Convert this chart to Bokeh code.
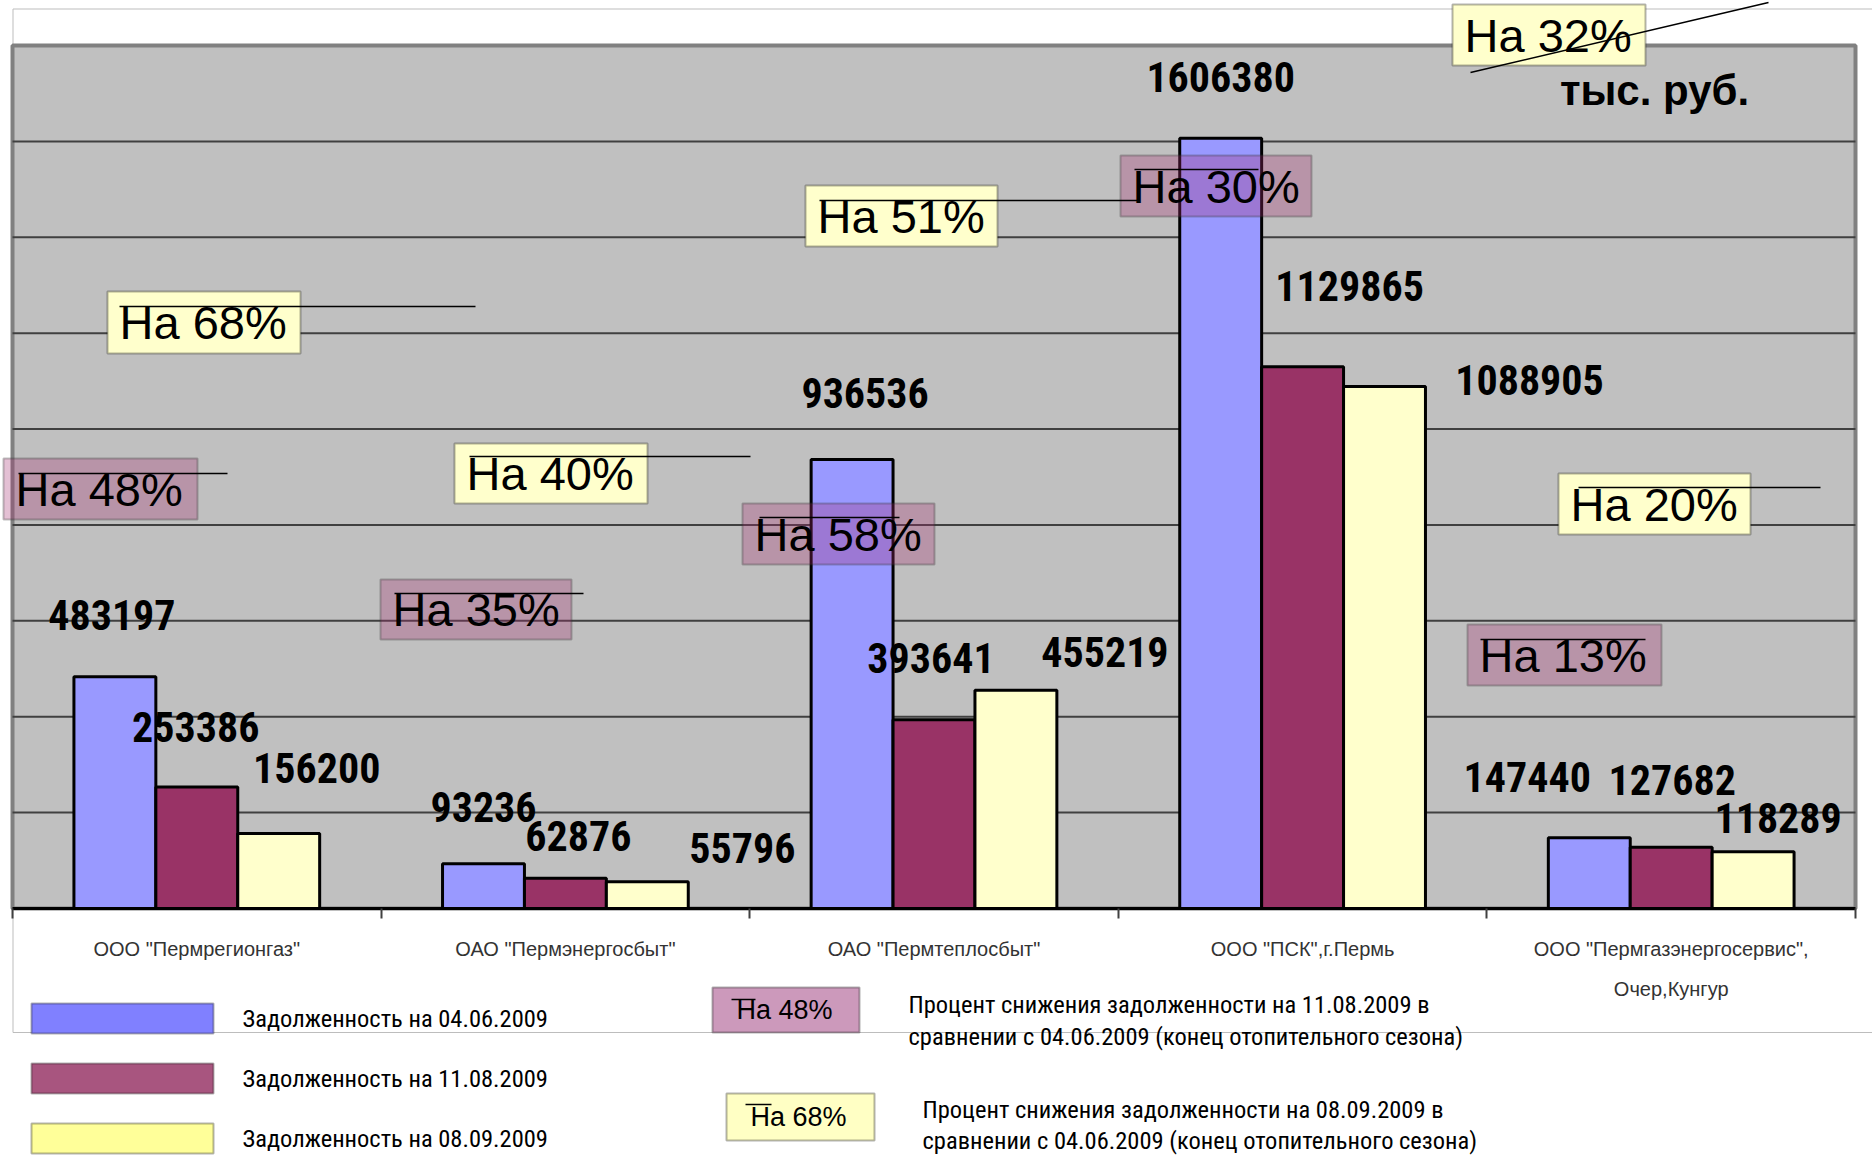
from bokeh.plotting import figure
from bokeh.models import Range1d, FixedTicker, ColumnDataSource, BoxAnnotation, Label, Arrow
from bokeh.core.properties import value
from bokeh.embed import file_html
from bokeh.resources import INLINE
import numpy as np

# ---------------- data ----------------
categories = ['ООО "Пермрегионгаз"', 'ОАО "Пермэнергосбыт"', 'ОАО "Пермтеплосбыт"',
              'ООО "ПСК",г.Пермь', 'ООО "Пермгазэнергосервис",']
category_second_line = 'Очер,Кунгур'
series_names = ['Задолженность на 04.06.2009', 'Задолженность на 11.08.2009',
                'Задолженность на 08.09.2009']
debt_0406 = [483197, 93236, 936536, 1606380, 147440]
debt_1108 = [253386, 62876, 393641, 1129865, 127682]
debt_0809 = [156200, 55796, 455219, 1088905, 118289]
pct_1108 = [48, 35, 58, 30, 13]   # decrease 11.08 vs 04.06
pct_0809 = [68, 40, 51, 32, 20]   # decrease 08.09 vs 04.06
y_max = 1800000
y_grid_ticks = [200000, 400000, 600000, 800000, 1000000, 1200000, 1400000, 1600000]
unit_text = 'тыс. руб.'
legend_pct_text = ['На 48%', 'На 68%']
legend_pct_desc = [['Процент снижения задолженности на 11.08.2009  в',
                    'сравнении с 04.06.2009 (конец отопительного сезона)'],
                   ['Процент снижения задолженности на 08.09.2009  в',
                    'сравнении с 04.06.2009 (конец отопительного сезона)']]

# ---------------- styling / layout ----------------
W, H = 1872, 1157
GL, GR, GT, GB = 12, 1855, 45, 908      # plot-area edges in page px
NCAT = len(categories)
BAR_W = 1 / 4.5
bar_colors = ['#9999FF', '#993366', '#FFFFCC']
swatch_colors = ['#8080FF', '#A8557F', '#FFFF99']
COND = 'Roboto Condensed, Open Sans Condensed, DejaVu Sans Condensed, Liberation Sans Narrow, Liberation Sans'
SANS = 'Liberation Sans'

XU = NCAT / (GR - GL)       # data units per px
YU = y_max / (GB - GT)

def X(px):
    return (px - GL) * XU

def Y(py):
    return (GB - py) * YU

p = figure(width=W, height=H, x_range=Range1d(X(0), X(W)), y_range=Range1d(Y(H), Y(0)),
           y_axis_location=None, toolbar_location=None, output_backend='svg',
           min_border_left=0, min_border_right=0, min_border_top=0, min_border_bottom=0,
           background_fill_color='white', border_fill_color='white', outline_line_color=None)
p.grid.visible = False

# outer chart border
p.quad(left=X(12.5), right=X(1890), top=Y(8.5), bottom=Y(1032), fill_color=None,
       line_color='#BDBDBD', line_width=1)
# plot area
p.quad(left=0, right=NCAT, bottom=0, top=y_max, fill_color='#C0C0C0', line_color='#808080',
       line_width=4)
# horizontal grid lines
p.segment(x0=[0] * len(y_grid_ticks), x1=[NCAT] * len(y_grid_ticks), y0=y_grid_ticks,
          y1=y_grid_ticks, line_color='#404040', line_width=2)

centers = np.arange(NCAT) + 0.5
ax = p.xaxis[0]
ax.fixed_location = 0
ax.bounds = (0, NCAT)
ax.ticker = FixedTicker(ticks=list(centers), minor_ticks=list(range(NCAT + 1)))
ax.major_label_overrides = {float(c): n for c, n in zip(centers, categories)}
ax.major_tick_line_color = None
ax.major_tick_out = 0
ax.major_tick_in = 0
ax.minor_tick_in = 0
ax.minor_tick_out = 10
ax.minor_tick_line_color = '#404040'
ax.minor_tick_line_width = 2
ax.axis_line_color = 'black'
ax.axis_line_width = 3
ax.major_label_text_font = SANS
ax.major_label_text_font_size = '20px'
ax.major_label_text_color = '#333333'
ax.major_label_standoff = 19

# ---------------- bars ----------------
series = [debt_0406, debt_1108, debt_0809]
offsets = [-BAR_W, 0, BAR_W]
for vals, off, col in zip(series, offsets, bar_colors):
    src = ColumnDataSource(dict(x=centers + off, top=vals))
    p.vbar(x='x', top='top', width=BAR_W, bottom=0, source=src, fill_color=col,
           line_color='black', line_width=3)

# value labels: offsets (px) of label centre from bar centre / bar top
label_dx = [[-3, 0, 13, 0, -62], [-1, 13, -3, 47, 1], [38, 95, 89, 145, 25]]
label_dy = [[-62, -57, -66, -61, -61], [-60, -42, -62, -81, -67], [-66, -34, -38, -6, -34]]
lx, ly, lt = [], [], []
for s, (vals, off) in enumerate(zip(series, offsets)):
    for i, v in enumerate(vals):
        lx.append(centers[i] + off + label_dx[s][i] * XU)
        ly.append(v - label_dy[s][i] * YU)
        lt.append(str(v))
p.text(x='x', y='y', text='t', source=ColumnDataSource(dict(x=lx, y=ly, t=lt)),
       text_font=value(COND), text_font_style='bold', text_font_size='42px',
       text_color='black', text_align='center', text_baseline='middle')

# ---------------- percentage boxes ----------------
# (left, top, right, bottom) in page px, leader line (x0, y0, x1, y1)
box_1108 = [(3, 458, 197, 519), (380, 579, 571, 639), (742, 503, 934, 564),
            (1120, 155, 1311, 216), (1467, 624, 1661, 685)]
line_1108 = [(18, 473, 227, 473), (394, 593, 583, 593), (759, 517, 899, 517),
             (1134, 169, 1258, 169), (1480, 639, 1645, 639)]
box_0809 = [(107, 291, 300, 353), (454, 443, 647, 503), (805, 185, 997, 246),
            (1452, 4, 1645, 65), (1558, 473, 1750, 534)]
line_0809 = [(119, 306, 475, 306), (469, 456, 750, 456), (819, 200, 1137, 200),
             (1470, 72, 1768, 2), (1578, 487, 1820, 487)]

lines = []
for boxes, lns, pcts, kind in [(box_0809, line_0809, pct_0809, 'y'), (box_1108, line_1108, pct_1108, 'm')]:
    for (l, t, r, b), ln, pc in zip(boxes, lns, pcts):
        if kind == 'y':
            ba = BoxAnnotation(left=X(l), right=X(r), top=Y(t), bottom=Y(b), fill_color='#FFFFCC',
                               fill_alpha=1.0, line_color='black', line_width=2)
        else:
            ba = BoxAnnotation(left=X(l), right=X(r), top=Y(t), bottom=Y(b), fill_color='#A52D70',
                               fill_alpha=0.3, line_color='#303030', line_width=2)
        p.add_layout(ba)
        p.add_layout(Label(x=X(l + 12), y=Y((t + b) / 2), text='На %d%%' % pc,
                           text_font=SANS, text_font_size='47px', text_color='black',
                           text_align='left', text_baseline='middle'))
        lines.append(ln)

# unit label
p.add_layout(Label(x=X(1654), y=Y(90), text=unit_text, text_font=SANS, text_font_style='bold',
                   text_font_size='42px', text_color='black', text_align='center',
                   text_baseline='middle'))

# second line of last category label
p.add_layout(Label(x=centers[-1], y=Y(988), text=category_second_line, text_font=SANS,
                   text_font_size='20px', text_color='#333333', text_align='center',
                   text_baseline='middle'))

# ---------------- legend ----------------
sw_top = [1003, 1063, 1123]
for i, (name, col) in enumerate(zip(series_names, swatch_colors)):
    p.add_layout(BoxAnnotation(left=X(31), right=X(213), top=Y(sw_top[i]), bottom=Y(sw_top[i] + 30),
                               fill_color=col, fill_alpha=1.0, line_color='black', line_width=2))
    p.add_layout(Label(x=X(242), y=Y(sw_top[i] + 15), text=name, text_font=COND,
                       text_font_size='24.5px', text_color='black', text_align='left',
                       text_baseline='middle'))

leg_boxes = [(712, 987, 859, 1032), (726, 1093, 874, 1140)]
leg_fill = ['#CC99BB', '#FFFFC4']
leg_desc_x = [908, 922]
leg_desc_y = [[1004, 1036], [1109, 1140]]
leg_lines = [(731, 999, 755, 999), (745, 1104, 771, 1104)]
for i in range(2):
    l, t, r, b = leg_boxes[i]
    p.add_layout(BoxAnnotation(left=X(l), right=X(r), top=Y(t), bottom=Y(b), fill_color=leg_fill[i],
                               fill_alpha=1.0, line_color='black', line_width=2))
    p.add_layout(Label(x=X(l + 24), y=Y((t + b) / 2), text=legend_pct_text[i], text_font=SANS,
                       text_font_size='27px', text_color='black', text_align='left',
                       text_baseline='middle'))
    for j in range(2):
        p.add_layout(Label(x=X(leg_desc_x[i]), y=Y(leg_desc_y[i][j]), text=legend_pct_desc[i][j],
                           text_font=COND, text_font_size='24.5px', text_color='black',
                           text_align='left', text_baseline='middle'))
    lines.append(leg_lines[i])

# leader lines
lsrc = ColumnDataSource(dict(x0=[X(a[0]) for a in lines], y0=[Y(a[1]) for a in lines],
                             x1=[X(a[2]) for a in lines], y1=[Y(a[3]) for a in lines]))
p.add_layout(Arrow(end=None, x_start='x0', y_start='y0', x_end='x1', y_end='y1', source=lsrc,
                   line_color='black', line_width=1.5))

open('out.html', 'w').write(file_html(p, INLINE))
